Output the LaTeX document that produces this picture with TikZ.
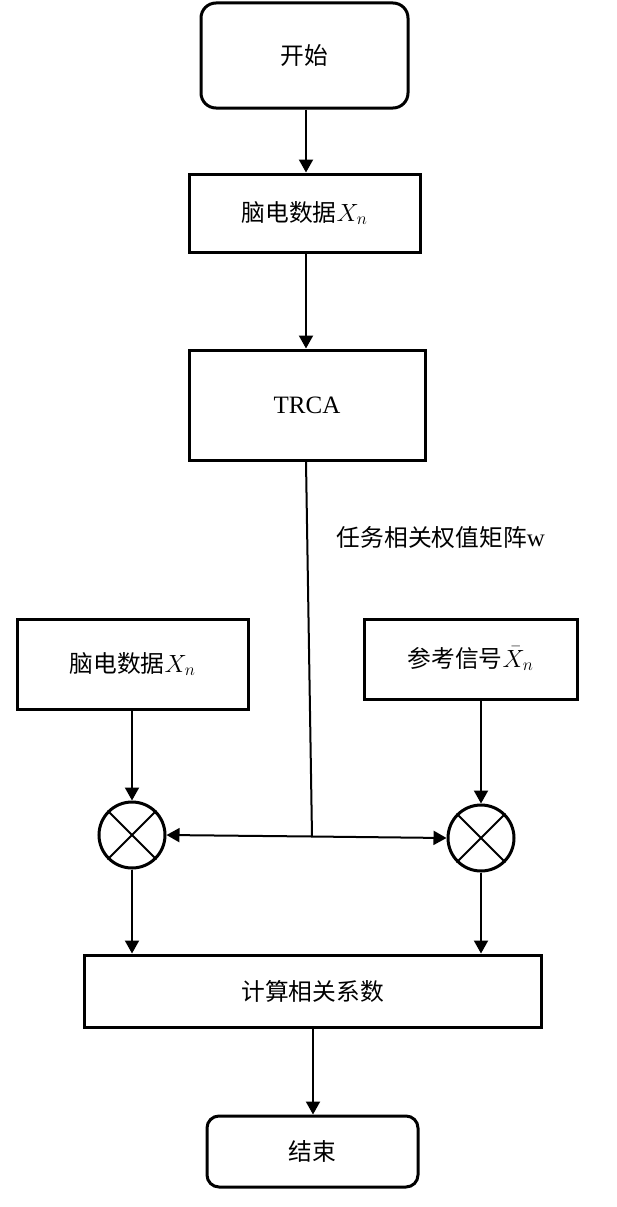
\documentclass[tikz,border=0pt]{standalone}
\usepackage{fontspec}
\setmainfont{Liberation Serif}
\newfontfamily\cjk{Noto Sans CJK SC}[Scale=0.95]
\usetikzlibrary{arrows.meta}
\tikzset{
  txt/.style={font=\fontsize{25}{30}\selectfont},
  boxstyle/.style={draw, line width=3pt, inner sep=0pt, txt},
  roundbox/.style={boxstyle, rounded corners=15pt},
  mult/.style={draw, circle, line width=3pt, minimum size=66pt, inner sep=0pt},
  conn/.style={line width=2pt, -{Triangle[length=13pt,width=14pt]}},
  plain/.style={line width=2pt}
}
\begin{document}
\begin{tikzpicture}[x=1pt,y=-1pt]
\useasboundingbox (0,0) rectangle (616,1207);
\node[roundbox, minimum width=207pt, minimum height=105pt] (start) at (304.5,55.5) {\cjk 开始};
\node[boxstyle, minimum width=231pt, minimum height=78pt] (eeg1) at (304.5,213) {\cjk 脑电数据$X_n$};
\node[boxstyle, minimum width=236pt, minimum height=110pt] (trca) at (307,405) {TRCA};
\node[txt] (lbl) at (441,538) {\cjk 任务相关权值矩阵\rmfamily w};
\node[boxstyle, minimum width=231pt, minimum height=90pt] (eeg2) at (132.5,664) {\cjk 脑电数据$X_n$};
\node[boxstyle, minimum width=213pt, minimum height=80pt] (ref) at (470.5,659) {\cjk 参考信号$\bar{X}_n$};
\node[mult] (lc) at (132,835) {};
\node[mult] (rc) at (481,838) {};
\draw[plain] (lc.north west) -- (lc.south east) (lc.north east) -- (lc.south west);
\draw[plain] (rc.north west) -- (rc.south east) (rc.north east) -- (rc.south west);
\node[boxstyle, minimum width=457pt, minimum height=72pt] (comp) at (312.5,991) {\cjk 计算相关系数};
\node[roundbox, rounded corners=12pt, minimum width=211pt, minimum height=71pt] (end) at (312.5,1151.5) {\cjk 结束};
\coordinate (junc) at (312,836.5);
\draw[conn] (start.south -| 306,0) -- (eeg1.north -| 306,0);
\draw[conn] (eeg1.south -| 306,0) -- (trca.north -| 306,0);
\draw[plain] (trca.south -| 306,0) -- (junc);
\draw[conn] (junc) -- (lc.east);
\draw[conn] (junc) -- (rc.west);
\draw[conn] (eeg2.south -| lc) -- (lc.north);
\draw[conn] (ref.south -| rc) -- (rc.north);
\draw[conn] (lc.south) -- (lc.south |- comp.north);
\draw[conn] (rc.south) -- (rc.south |- comp.north);
\draw[conn] (comp.south -| 313,0) -- (end.north -| 313,0);
\end{tikzpicture}
\end{document}
